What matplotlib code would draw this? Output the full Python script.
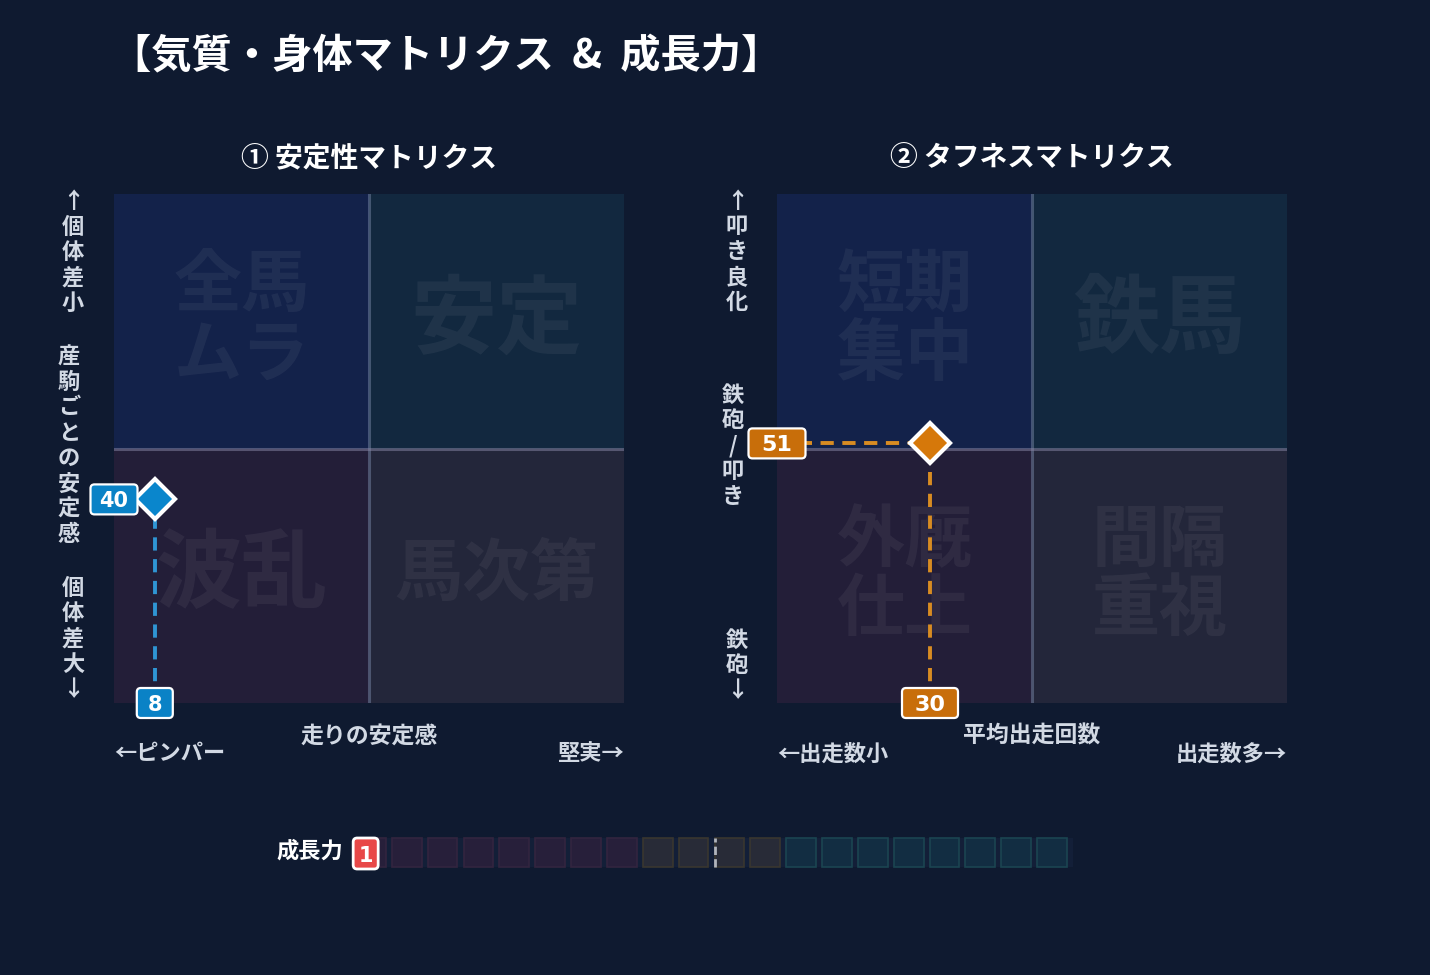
import numpy as np
import matplotlib
matplotlib.use("Agg")
import matplotlib.pyplot as plt
from matplotlib.patches import Rectangle, FancyBboxPatch
from matplotlib.transforms import IdentityTransform

plt.rcParams['font.family'] = ['Noto Sans CJK JP', 'DejaVu Sans']
plt.rcParams['font.weight'] = 'bold'

W, H = 1430, 975
BG = '#0f1a30'
TXT = '#d2d9e4'

# data
title = '【気質・身体マトリクス  &  成長力】'
panel_titles = ['① 安定性マトリクス', '② タフネスマトリクス']
quad_words_1 = ['全馬\nムラ', '安定', '波乱', '馬次第']   # TL, TR, BL, BR
quad_words_2 = ['短期\n集中', '鉄馬', '外厩\n仕上', '間隔\n重視']
quad_sizes_1 = [49, 62, 62, 49]
quad_sizes_2 = [49, 62, 49, 49]
x_titles = ['走りの安定感', '平均出走回数']
x_left = ['←ピンパー', '←出走数小']
x_right = ['堅実→', '出走数多→']
y_groups_1 = ['↑個体差小', '産駒ごとの安定感', '個体差大↓']
y_groups_2 = ['↑叩き良化', '鉄砲/叩き', '鉄砲↓']
point_1 = (8, 40)
point_2 = (30, 51)
colors_pt = ['#0a86cc', '#d6780a']
badge_cols = ['#0a82c6', '#c86e0a']
line_cols = ['#2f95d4', '#d88c22']
growth_value = 1
growth_cells = 20
growth_groups = ['#271f3a'] * 8 + ['#282b37'] * 4 + ['#122d42'] * 8
growth_edges = ['#33253f'] * 8 + ['#39362f'] * 4 + ['#1b4551'] * 8

quad_fc = ['#13224a', '#12283f', '#231e38', '#23263a']


def fx(px):
    return px / W


def fy(py):
    return 1 - py / H


fig = plt.figure(figsize=(14.3, 9.75), dpi=100)
fig.patch.set_facecolor(BG)


def badge(ax, x, y, label, fc, w, h, fs, lw=1.6):
    # rounded label box, sized in pixels, centred on a data point
    cx, cy = ax.transData.transform((x, y))
    box = FancyBboxPatch((cx - w / 2, cy - h / 2), w, h,
                         boxstyle='round,pad=0,rounding_size=4',
                         fc=fc, ec='white', lw=lw, transform=IdentityTransform(),
                         zorder=6)
    fig.add_artist(box)
    fig.text(cx / W, cy / H, label, color='white', fontsize=fs, fontweight='bold',
             family='DejaVu Sans', ha='center', va='center_baseline', zorder=7)


fig.text(fx(111), fy(56), title, color='white', fontsize=29, fontweight='bold',
         ha='left', va='center')

panels = [
    dict(x0=114, words=quad_words_1, sizes=quad_sizes_1, pt=point_1,
         groups=y_groups_1, gx=[73, 69, 73], gy=[202, 357, 588], bw=[47, 36], fs=15),
    dict(x0=777, words=quad_words_2, sizes=quad_sizes_2, pt=point_2,
         groups=y_groups_2, gx=[737, 733, 737], gy=[201, 395, 640], bw=[57, 56], fs=16),
]

for i, p in enumerate(panels):
    x0 = p['x0']
    ax = fig.add_axes([fx(x0), fy(703), 510 / W, 509 / H])
    ax.set_xlim(0, 100)
    ax.set_ylim(0, 100)
    ax.axis('off')
    # quadrants
    for k, (qx, qy) in enumerate([(0, 50), (50, 50), (0, 0), (50, 0)]):
        ax.add_patch(Rectangle((qx, qy), 50, 50, facecolor=quad_fc[k], edgecolor='none', zorder=0))
        ax.text(qx + 25, qy + 25, p['words'][k], color='white', alpha=0.055,
                fontsize=p['sizes'][k], fontweight='bold', ha='center', va='center',
                linespacing=1.0, zorder=1)
    ax.axvline(50, color='#8090b0', alpha=0.45, lw=2.2, zorder=2)
    ax.axhline(50, color='#8a88a8', alpha=0.5, lw=2.2, zorder=2)

    px, py = p['pt']
    ax.plot([px, px], [0, py], color=line_cols[i], lw=2.8, ls=(0, (3.4, 2.2)), zorder=3)
    if i == 1:
        ax.plot([0, px], [py, py], color=line_cols[i], lw=2.8, ls=(0, (3.4, 2.2)), zorder=3)
    ax.plot(px, py, marker='D', ms=20, color=colors_pt[i], mec='white', mew=3,
            zorder=5, clip_on=False)

    fig.canvas.draw()
    badge(ax, 0, py, f'{py}', badge_cols[i], p['bw'][0], 30, p['fs'])
    badge(ax, px, 0, f'{px}', badge_cols[i], p['bw'][1], 30, p['fs'])

    cx = x0 + 255
    fig.text(fx(cx), fy(158), panel_titles[i], color='white', fontsize=20,
             fontweight='bold', ha='center', va='center')
    fig.text(fx(cx), fy(736), x_titles[i], color=TXT, fontsize=16.5,
             fontweight='bold', ha='center', va='center')
    fig.text(fx(x0), fy(754), x_left[i], color=TXT, fontsize=16,
             fontweight='bold', ha='left', va='center')
    fig.text(fx(x0 + 510), fy(754), x_right[i], color=TXT, fontsize=16,
             fontweight='bold', ha='right', va='center')

    for g, gx, gy in zip(p['groups'], p['gx'], p['gy']):
        for j, ch in enumerate(g):
            fig.text(fx(gx), fy(gy + 25.4 * j), ch, color=TXT, fontsize=16,
                     fontweight='bold', ha='center', va='center')

# growth bar
gax = fig.add_axes([fx(356), fy(870), (1073 - 356) / W, 33 / H])
gax.set_xlim(0, growth_cells)
gax.set_ylim(0, 1)
gax.axis('off')
gax.add_patch(Rectangle((0, 0.09), growth_cells, 0.88, facecolor='#131f38', edgecolor='none'))
for c in range(growth_cells):
    gax.add_patch(Rectangle((c, 0.09), 0.83, 0.88, facecolor=growth_groups[c],
                            edgecolor=growth_edges[c], lw=1.2))
gax.plot([growth_cells / 2, growth_cells / 2], [0.09, 0.97], color='#b0b4bc',
         lw=2, ls=(0, (3, 1.5)))
fig.canvas.draw()
badge(gax, growth_value - 0.73, 0.5, f'{growth_value}', '#e84848', 25, 31, 15, lw=2)
fig.text(fx(343), fy(851), '成長力', color='white', fontsize=16,
         fontweight='bold', ha='right', va='center')

fig.savefig('out.png', dpi=100, facecolor=BG)
